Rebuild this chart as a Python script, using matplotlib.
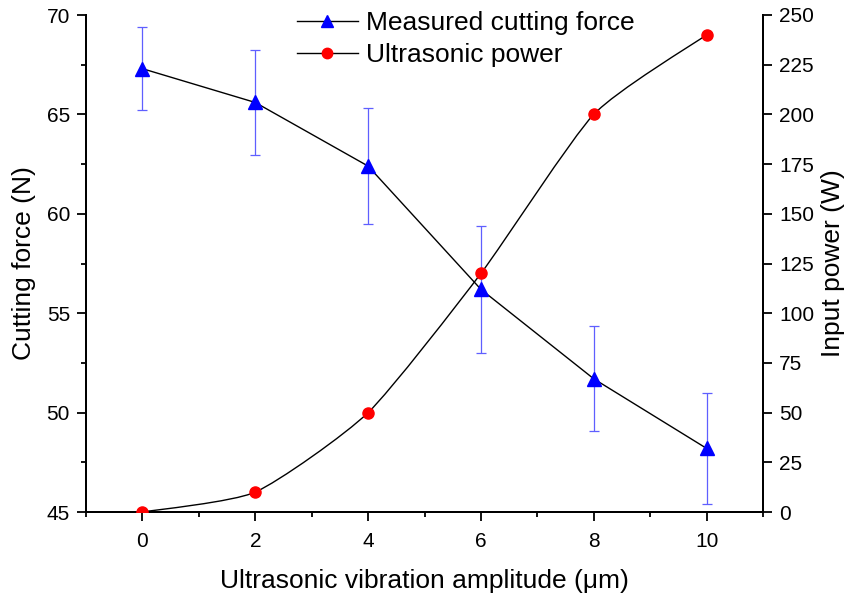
import matplotlib
matplotlib.use("Agg")
import matplotlib.pyplot as plt
from matplotlib.path import Path
from matplotlib.patches import PathPatch
from matplotlib.lines import Line2D
from matplotlib.ticker import MultipleLocator
import numpy as np

plt.rcParams['font.family'] = ['Liberation Sans', 'DejaVu Sans']

amplitude = [0, 2, 4, 6, 8, 10]
cutting_force = [67.3, 65.6, 62.4, 56.2, 51.7, 48.2]
force_err = [2.1, 2.65, 2.9, 3.2, 2.65, 2.8]
input_power = [0, 10, 50, 120, 200, 240]

W, H = 847, 598
fig = plt.figure(figsize=(W/100, H/100), dpi=100)
ax = fig.add_axes([86/W, 1-512/H, (763-86)/W, (512-15)/H])
ax2 = ax.twinx()

# cutting force
ax.errorbar(amplitude, cutting_force, yerr=force_err, fmt='none', ecolor='#5f5fff',
            elinewidth=0.9, capsize=3.6, capthick=0.9, zorder=2)
ax.plot(amplitude, cutting_force, color='black', lw=1.0, zorder=3)
ax.plot(amplitude, cutting_force, ls='none', marker='^', color='#0000ff', ms=9.5,
        mec='#0000ff', zorder=4, clip_on=False)

# ultrasonic power, smooth curve through points (Catmull-Rom -> Bezier)
xs = np.array(amplitude, float)
ys = np.array(input_power, float)
verts = [(xs[0], ys[0])]
codes = [Path.MOVETO]
n = len(xs)
for i in range(n - 1):
    p0 = np.array([xs[max(i-1, 0)], ys[max(i-1, 0)]])
    p1 = np.array([xs[i], ys[i]])
    p2 = np.array([xs[i+1], ys[i+1]])
    p3 = np.array([xs[min(i+2, n-1)], ys[min(i+2, n-1)]])
    t = 0.3
    c1 = p1 + (p2 - p0) * t / 3
    c2 = p2 - (p3 - p1) * t / 3
    verts += [tuple(c1), tuple(c2), tuple(p2)]
    codes += [Path.CURVE4] * 3
ax2.add_patch(PathPatch(Path(verts, codes), fill=False, ec='black', lw=1.0, zorder=3))
ax2.plot(amplitude, input_power, ls='none', marker='o', color='#ff0000', ms=8,
         zorder=4)

ax.set_xlim(-1, 11)
ax.set_ylim(45, 70)
ax2.set_ylim(0, 250)

ax.xaxis.set_major_locator(MultipleLocator(2))
ax.xaxis.set_minor_locator(MultipleLocator(1))
ax.yaxis.set_major_locator(MultipleLocator(5))
ax.yaxis.set_minor_locator(MultipleLocator(2.5))
ax2.yaxis.set_major_locator(MultipleLocator(25))

for a in (ax, ax2):
    a.spines['top'].set_visible(False)
    for s in a.spines.values():
        s.set_linewidth(1.4)
    a.tick_params(which='major', direction='out', length=6.5, width=1.3, labelsize=15)
    a.tick_params(which='minor', direction='out', length=3.8, width=1.3)
ax.tick_params(axis='x', pad=8)
ax.tick_params(axis='y', pad=5)
ax2.tick_params(axis='y', pad=5)

ax.set_xlabel('Ultrasonic vibration amplitude (μm)', fontsize=19, labelpad=13)
ax.set_ylabel('Cutting force (N)', fontsize=19, labelpad=8)
ax2.set_ylabel('Input power (W)', fontsize=19, labelpad=5)

handles = [
    Line2D([], [], color='black', lw=1.0, marker='^', mfc='#0000ff', mec='#0000ff', ms=9),
    Line2D([], [], color='black', lw=1.0, marker='o', mfc='#ff0000', mec='#ff0000', ms=7.5),
]
leg = fig.legend(handles, ['Measured cutting force', 'Ultrasonic power'],
                 loc='upper left', bbox_to_anchor=(297/W, 1-11/H), frameon=False,
                 fontsize=19, handlelength=2.3, handletextpad=0.3, labelspacing=0.3,
                 borderpad=0, borderaxespad=0)

fig.savefig('out.png', dpi=100)
